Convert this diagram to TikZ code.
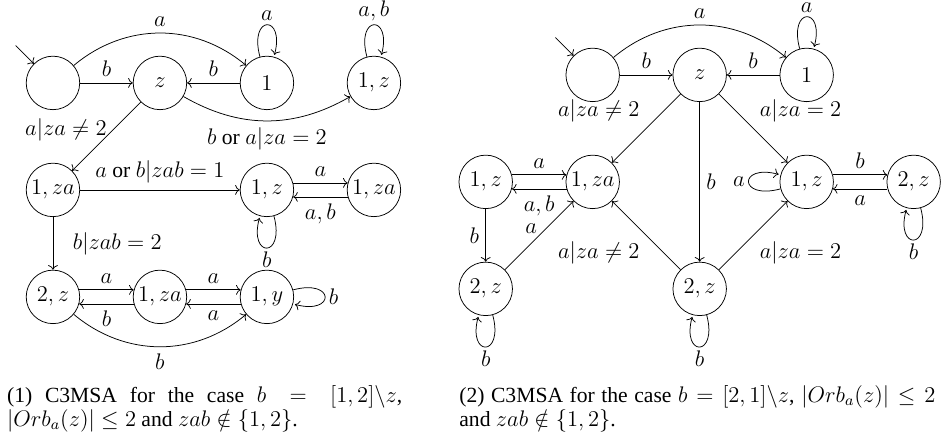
\documentclass[tikz,border=0pt]{standalone}
\usepackage{amsmath,amssymb}
\usepackage[no-math]{fontspec}
\setmainfont{Liberation Serif}
\usepackage{tikz}
\usetikzlibrary{
  arrows.meta,
  positioning,
  calc
}
\tikzset{
  statenode/.style={
    circle, draw, minimum size=1cm, inner sep=1pt
  },
  trans/.style={
    -To, thin
  },
  looplbl/.style={
    inner sep=2pt
  },
  captext/.style={
    font={\fontsize{11.5}{12.65}\selectfont}, text width=#1, align=justify,
    inner sep=0pt, anchor=north west
  },
}

\begin{document}
\begin{tikzpicture}[font={\fontsize{11.5}{13.8}\selectfont}, node distance=2cm, on grid]

  \useasboundingbox (0,0) rectangle (17.61,-8.19);

  %% Left automaton (1)
  \node[statenode] (l0) at (0.99,-1.55) {};
  \node[statenode, right=of l0] (lz) {$z$};
  \node[statenode, right=of lz] (l1) {$1$};
  \node[statenode, right=of l1] (l1z) {$1, z$};
  \node[statenode, below=of l0] (l1za) {$1, za$};
  \node[statenode, below=of l1] (lm1z) {$1, z$};
  \node[statenode, below=of l1z] (lr1za) {$1, za$};
  \node[statenode, below=of l1za] (l2z) {$2, z$};
  \node[statenode, right=of l2z] (lb1za) {$1, za$};
  \node[statenode, right=of lb1za] (l1y) {$1, y$};
  \coordinate (l0in) at ($(l0.135)+(135:0.48)$);

  \draw[trans] (l0in) -- (l0);
  \draw[trans] (l0) to[bend left=40] node[above] {$a$} (l1);
  \draw[trans] (l0) -- node[above] {$b$} (lz);
  \draw[trans] (l1) -- node[above] {$b$} (lz);
  \draw[trans] (l1) edge[loop above] node[above, looplbl] {$a$} ();
  \draw[trans] (l1z) edge[loop above] node[above, looplbl] {$a, b$} ();
  \draw[trans] (lz) to[bend right=30] node[below] {$b$ or $a|za = 2$} (l1z);
  \draw[trans] (lz) -- node[pos=0.4, left] {$a|za \neq 2$} (l1za);
  \draw[trans] (l1za) -- node[above] {$a$ or $b|zab = 1$} (lm1z);
  \draw[trans] (lm1z.15) -- node[above] {$a$} (lr1za.165);
  \draw[trans] (lr1za.195) -- node[below] {$a, b$} (lm1z.-15);
  \draw[trans] (lm1z) edge[loop below] node[below, looplbl] {$b$} ();
  \draw[trans] (l1za) -- node[right=0.25cm] {$b|zab = 2$} (l2z);
  \draw[trans] (l2z.15) -- node[above] {$a$} (lb1za.165);
  \draw[trans] (lb1za.195) -- node[below] {$b$} (l2z.-15);
  \draw[trans] (lb1za.15) -- node[above] {$a$} (l1y.165);
  \draw[trans] (l1y.195) -- node[below] {$a$} (lb1za.-15);
  \draw[trans] (l1y) edge[loop right] node[right, looplbl] {$b$} ();
  \draw[trans] (l2z) to[bend right=40] node[below] {$b$} (l1y);

  %% Right automaton (2)
  \node[statenode] (r0) at (11.08,-1.40) {};
  \node[statenode, right=of r0] (rz) {$z$};
  \node[statenode, right=of rz] (r1) {$1$};
  \node[statenode, below=of r0] (r1za) {$1, za$};
  \node[statenode, left=of r1za] (rl1z) {$1, z$};
  \node[statenode, below=of r1] (rr1z) {$1, z$};
  \node[statenode, right=of rr1z] (rr2z) {$2, z$};
  \node[statenode, below=of rl1z] (rl2z) {$2, z$};
  \node[statenode, below=4cm of rz] (rm2z) {$2, z$};
  \coordinate (r0in) at ($(r0.135)+(135:0.48)$);

  \draw[trans] (r0in) -- (r0);
  \draw[trans] (r0) to[bend left=40] node[above] {$a$} (r1);
  \draw[trans] (r0) -- node[above] {$b$} (rz);
  \draw[trans] (r1) -- node[above] {$b$} (rz);
  \draw[trans] (r1) edge[loop above] node[above, looplbl] {$a$} ();
  \draw[trans] (rz) -- node[above left] {$a|za \neq 2$} (r1za);
  \draw[trans] (rz) -- node[above right] {$a|za = 2$} (rr1z);
  \draw[trans] (rz) -- node[right] {$b$} (rm2z);
  \draw[trans] (rl1z.15) -- node[above] {$a$} (r1za.165);
  \draw[trans] (r1za.195) -- node[below] {$a, b$} (rl1z.-15);
  \draw[trans] (rl1z) -- node[left] {$b$} (rl2z);
  \draw[trans] (rl2z) -- node[above left, inner sep=1pt] {$a$} (r1za);
  \draw[trans] (rl2z) edge[loop below] node[below, looplbl] {$b$} ();
  \draw[trans] (rm2z) -- node[below left] {$a|za \neq 2$} (r1za);
  \draw[trans] (rm2z) -- node[below right] {$a|za = 2$} (rr1z);
  \draw[trans] (rm2z) edge[loop below] node[below, looplbl] {$b$} ();
  \draw[trans] (rr1z) edge[loop left] node[left, looplbl] {$a$} ();
  \draw[trans] (rr1z.15) -- node[above] {$b$} (rr2z.165);
  \draw[trans] (rr2z.195) -- node[below] {$a$} (rr1z.-15);
  \draw[trans] (rr2z) edge[loop below] node[below, looplbl] {$b$} ();

  %% Captions
  \node[captext=7.39cm] (cap1) at (0.125,-7.20)
    {(1) C3MSA for the case $b = [1,2]\backslash z$, $|Orb_a(z)| \le 2$ and $zab \notin \{1,2\}$.};
  \node[captext=8.9cm] (cap2) at (8.58,-7.20)
    {(2) C3MSA for the case $b = [2,1]\backslash z$, $|Orb_a(z)| \le 2$ and $zab \notin \{1,2\}$.};

\end{tikzpicture}
\end{document}
